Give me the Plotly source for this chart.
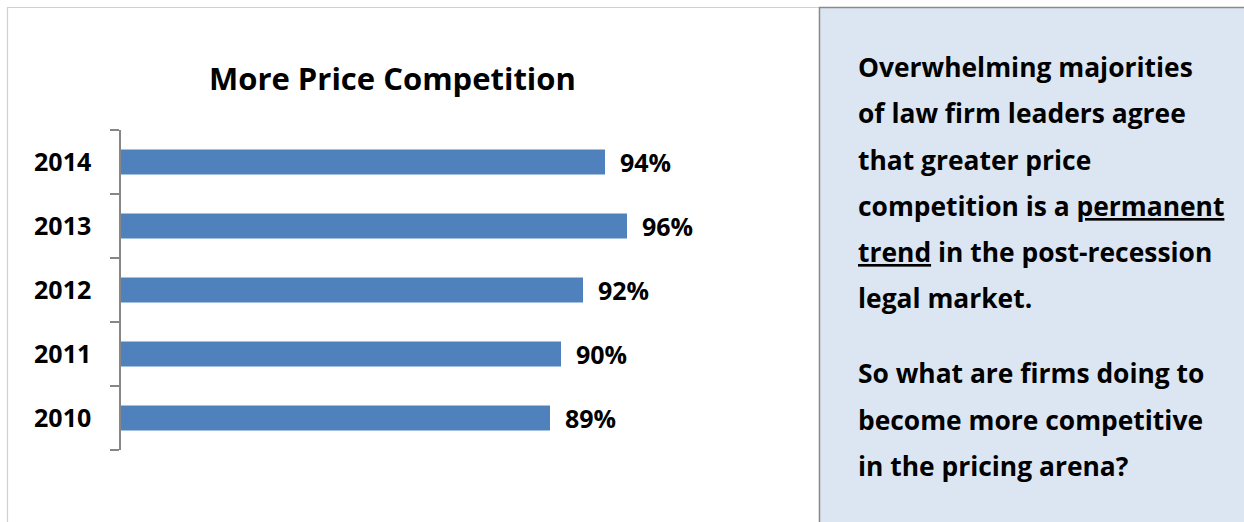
import plotly.graph_objects as go

years = ["2010", "2011", "2012", "2013", "2014"]
values = [0.89, 0.90, 0.92, 0.96, 0.94]
labels = ["89%", "90%", "92%", "96%", "94%"]

title_text = "More Price Competition"
side_lines = [
    "Overwhelming majorities",
    "of law firm leaders agree",
    "that greater price",
    "competition is a <u>permanent</u>",
    "<u>trend</u> in the post-recession",
    "legal market.",
    "So what are firms doing to",
    "become more competitive",
    "in the pricing arena?",
]

W, H = 1244, 522
FONT = "Open Sans"

def px_x(p):
    return p / W

def px_y(p):
    return (H - p) / H

fig = go.Figure()
fig.add_trace(go.Bar(
    x=values, y=years, orientation="h",
    marker=dict(color="#4F81BD", line=dict(width=0)),
    hoverinfo="skip", cliponaxis=True,
))

annotations = []
for i, (v, lab) in enumerate(zip(values, labels)):
    annotations.append(dict(
        x=v, y=i, xref="x", yref="y", text=f"<b>{lab}</b>", showarrow=False,
        xanchor="left", yanchor="middle", xshift=13,
        font=dict(family=FONT, size=25, color="#000000"),
    ))

annotations.append(dict(
    x=px_x(392), y=px_y(78), xref="paper", yref="paper",
    text=f"<b>{title_text}</b>", showarrow=False, xanchor="center", yanchor="middle",
    font=dict(family=FONT, size=31, color="#000000"),
))

line_centers = [67, 113, 160, 206, 252, 298, 373, 420, 466]
for t, yc in zip(side_lines, line_centers):
    annotations.append(dict(
        x=px_x(856), y=px_y(yc), xref="paper", yref="paper",
        text=f"<b>{t}</b>", showarrow=False, xanchor="left", yanchor="middle",
        font=dict(family=FONT, size=26.4, color="#000000"),
    ))

shapes = [
    dict(type="rect", xref="paper", yref="paper", layer="below",
         x0=px_x(7.5), x1=px_x(819.5), y0=-0.02, y1=px_y(7.5),
         line=dict(color="#D0D0D0", width=1.2), fillcolor="#FFFFFF"),
    dict(type="rect", xref="paper", yref="paper", layer="below",
         x0=px_x(819.5), x1=1.02, y0=-0.02, y1=px_y(7.5),
         line=dict(color="#8A8A8A", width=1.5), fillcolor="#DCE6F2"),
]

fig.update_layout(
    width=W, height=H,
    margin=dict(l=0, r=0, t=0, b=0),
    paper_bgcolor="#FFFFFF", plot_bgcolor="rgba(0,0,0,0)",
    showlegend=False,
    bargap=0.61,
    annotations=annotations,
    shapes=shapes,
    xaxis=dict(domain=[px_x(121), px_x(671)], range=[0.5, 1.0],
               visible=False, fixedrange=True),
    yaxis=dict(domain=[px_y(450), px_y(130)], type="category",
               categoryorder="array", categoryarray=years,
               range=[-0.5, len(years) - 0.5], autorange=False,
               showline=True, linecolor="#868686", linewidth=1.5,
               ticks="outside", tickson="boundaries", ticklen=9,
               tickcolor="#868686", tickwidth=1.5,
               ticklabelstandoff=23,
               showgrid=False, zeroline=False,
               tickfont=dict(family=FONT, size=25, color="#000000"),
               tickprefix="<b>", ticksuffix="</b>", fixedrange=True),
)

fig.write_html("out.html", config={"displayModeBar": False})
